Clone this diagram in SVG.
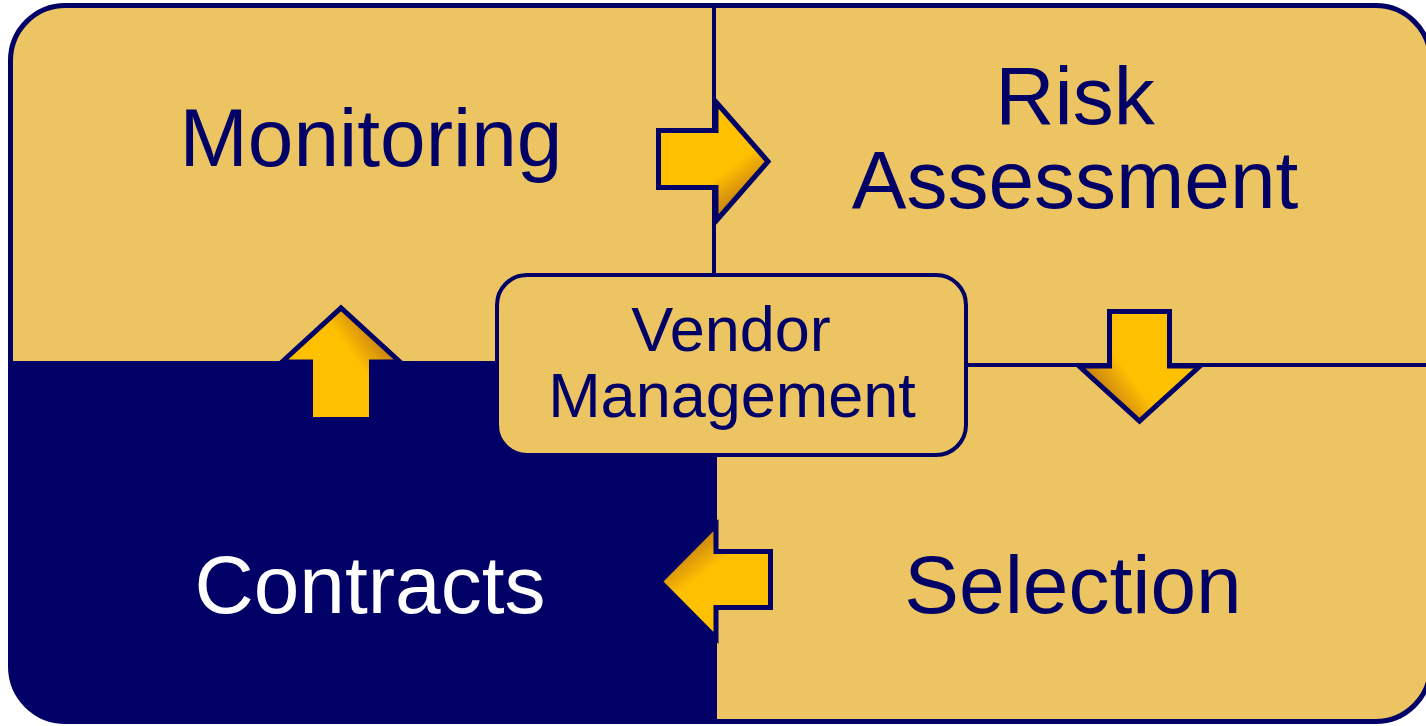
<svg xmlns="http://www.w3.org/2000/svg" width="1426" height="726" viewBox="0 0 1426 726">
  <defs>
    <style>
      .lbl { font-family: "Liberation Sans", Arial, sans-serif; font-size: 82px; text-anchor: middle; fill: #000066; }
      .lbl.inv { fill: #ffffff; }
      .hub { font-family: "Liberation Sans", Arial, sans-serif; font-size: 63px; text-anchor: middle; fill: #000066; }
      .div { stroke: #000066; stroke-width: 4; fill: none; }
      .arrow { stroke: #000066; stroke-width: 5; stroke-linejoin: miter; }
    </style>
    <clipPath id="panel">
      <rect x="10.5" y="5.5" width="1420" height="716" rx="55" ry="55"/>
    </clipPath>
    <!-- gold shading, darker on the clockwise flank of each arrow head -->
    <linearGradient id="gold" gradientUnits="userSpaceOnUse">
      <stop offset="0" stop-color="#FFC000"/>
      <stop offset="0.15" stop-color="#FFC000"/>
      <stop offset="1" stop-color="#C98310"/>
    </linearGradient>
    <linearGradient id="gRight" href="#gold" x1="720" y1="168" x2="742" y2="198"/>
    <linearGradient id="gDown" href="#gold" x1="1133" y1="370" x2="1103" y2="392"/>
    <linearGradient id="gUp" href="#gold" x1="347.5" y1="358" x2="377.5" y2="336"/>
    <linearGradient id="gLeft" href="#gold" x1="712" y1="575" x2="690" y2="545"/>
  </defs>

  <!-- quadrant panels -->
  <g id="panels" clip-path="url(#panel)">
    <rect x="0" y="0" width="1440" height="726" fill="#ECC462"/>
    <rect id="quad-contracts" x="0" y="361" width="717" height="365" fill="#000066"/>
    <line class="div" x1="714" y1="0" x2="714" y2="275"/>
    <line class="div" x1="966" y1="365" x2="1440" y2="365"/>
  </g>
  <rect id="frame" x="10.5" y="5.5" width="1420" height="716" rx="55" ry="55" fill="none" stroke="#000066" stroke-width="5"/>

  <!-- cycle arrows -->
  <g id="connectors">
    <path class="arrow" fill="url(#gRight)" d="M658.5,130.5 H716 V102 L768,161.5 L716,221 V187.5 H658.5 Z"/>
    <path class="arrow" fill="url(#gDown)" d="M1109.5,311.5 H1169.5 V366 H1200 L1139.5,421 L1079,366 H1109.5 Z"/>
    <path class="arrow" fill="url(#gLeft)" d="M770.5,551.5 V607.5 H716 V638 L660,581.5 L716,525 V551.5 Z"/>
    <path class="arrow" fill="url(#gUp)" d="M310.5,419.5 V362 H282 L341,308 L400,362 H371.5 V419.5 Z"/>
  </g>

  <g id="monitoring">
    <text class="lbl" x="371" y="166">Monitoring</text>
  </g>
  <g id="risk-assessment">
    <text class="lbl" x="1075" y="124">Risk</text>
    <text class="lbl" x="1075" y="208">Assessment</text>
  </g>
  <g id="selection">
    <text class="lbl" x="1073" y="613">Selection</text>
  </g>
  <g id="contracts">
    <text class="lbl inv" x="370" y="613">Contracts</text>
  </g>
  <g id="vendor-management">
    <rect x="497" y="275" width="469" height="180" rx="30" ry="30" fill="#ECC462" stroke="#000066" stroke-width="4"/>
    <text class="hub" x="731" y="351">Vendor</text>
    <text class="hub" x="732" y="417">Management</text>
  </g>
</svg>
